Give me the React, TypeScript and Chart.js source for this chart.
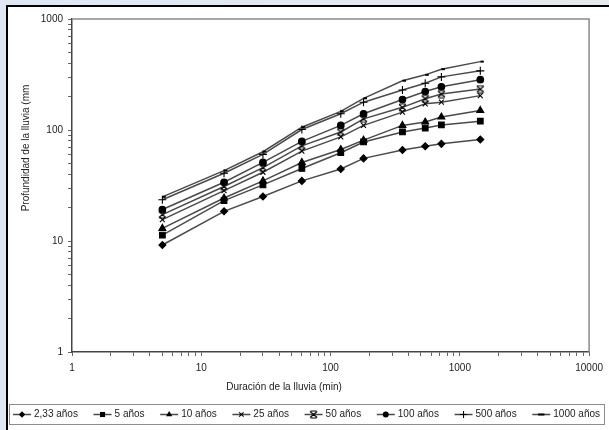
import React, { useEffect, useRef } from 'react';
import { Chart, registerables } from 'chart.js';

Chart.register(...registerables);

// ---- data ----
const durations = [5, 15, 30, 60, 120, 180, 360, 540, 720, 1440];
const seriesLabels = ['2,33 años', '5 años', '10 años', '25 años', '50 años', '100 años', '500 años', '1000 años'];
const p233 = [9.2, 18.5, 25.2, 34.8, 44.6, 55.5, 66, 71.5, 75, 82];
const p5 = [11.3, 23.1, 32, 45, 62.4, 78, 96, 104, 111, 120];
const p10 = [13.0, 24.4, 34.8, 51, 66.7, 81, 110, 118, 131, 150];
const p25 = [15.6, 28.4, 41.6, 64.5, 86.6, 110, 145, 172, 178, 204];
const p50 = [17.3, 31, 45.8, 72, 96, 126, 160, 191, 211, 234];
const p100 = [19.2, 33.8, 51, 79, 110, 140, 188, 222, 245, 284];
const p500 = [23.5, 40.8, 60.3, 101, 140, 178, 229, 264, 301, 341];
const p1000 = [25, 43, 63.7, 106, 147, 193, 278, 314, 353, 413];
const seriesValues = [p233, p5, p10, p25, p50, p100, p500, p1000];
const xTickLabels = [1, 10, 100, 1000, 10000];
const yTickLabels = [1, 10, 100, 1000];
const xTitle = 'Duración de la lluvia (min)';
const yTitle = 'Profundidad de la lluvia (mm';

// ---- styles ----
const FONT = '"Liberation Sans", Arial, sans-serif';
const LINE_COLOR = '#4a4a4a';
const markerStyles = ['rectRot', 'rect', 'triangle', 'crossRot', 'hourglass', 'circle', 'cross', 'dash'];
const markerRadius = [3.5, 4, 4, 3.5, 3.5, 3.3, 4, 3.5];

function makeHourglass(): HTMLCanvasElement {
  const c = document.createElement('canvas');
  c.width = 9;
  c.height = 9;
  const g = c.getContext('2d')!;
  g.strokeStyle = '#000';
  g.lineWidth = 1.1;
  g.beginPath();
  g.moveTo(1, 1.5); g.lineTo(8, 7.5);
  g.moveTo(8, 1.5); g.lineTo(1, 7.5);
  g.moveTo(1.5, 1); g.lineTo(7.5, 1);
  g.moveTo(1.5, 8); g.lineTo(7.5, 8);
  g.stroke();
  return c;
}

function decadeTicks(min: number, max: number): number[] {
  const out: number[] = [];
  for (let p = min; p < max; p *= 10) {
    for (let m = 1; m < 10; m++) out.push(p * m);
  }
  out.push(max);
  return out;
}

function drawMarker(ctx: CanvasRenderingContext2D, style: string, x: number, y: number, r: number, img: HTMLCanvasElement) {
  ctx.save();
  ctx.fillStyle = '#000';
  ctx.strokeStyle = '#000';
  ctx.lineWidth = 1.1;
  ctx.beginPath();
  switch (style) {
    case 'rectRot':
      ctx.moveTo(x, y - r); ctx.lineTo(x + r, y); ctx.lineTo(x, y + r); ctx.lineTo(x - r, y); ctx.closePath(); ctx.fill();
      break;
    case 'rect': {
      const s = r * Math.SQRT1_2;
      ctx.rect(x - s, y - s, 2 * s, 2 * s); ctx.fill();
      break;
    }
    case 'triangle':
      ctx.moveTo(x, y - r); ctx.lineTo(x + r * 0.87, y + r * 0.5); ctx.lineTo(x - r * 0.87, y + r * 0.5); ctx.closePath(); ctx.fill();
      break;
    case 'crossRot': {
      const s = r * Math.SQRT1_2;
      ctx.moveTo(x - s, y - s); ctx.lineTo(x + s, y + s); ctx.moveTo(x + s, y - s); ctx.lineTo(x - s, y + s); ctx.stroke();
      break;
    }
    case 'hourglass':
      ctx.drawImage(img, x - img.width / 2, y - img.height / 2);
      break;
    case 'circle':
      ctx.arc(x, y, r, 0, Math.PI * 2); ctx.fill();
      break;
    case 'cross':
      ctx.moveTo(x - r, y); ctx.lineTo(x + r, y); ctx.moveTo(x, y - r); ctx.lineTo(x, y + r); ctx.stroke();
      break;
    case 'dash':
      ctx.lineWidth = 2;
      ctx.moveTo(x - r, y); ctx.lineTo(x + r, y); ctx.stroke();
      break;
  }
  ctx.restore();
}

export default function App() {
  const ref = useRef<HTMLCanvasElement | null>(null);

  useEffect(() => {
    if (!ref.current) return;
    const hg = makeHourglass();

    const datasets = seriesValues.map((vals, i) => ({
      label: seriesLabels[i],
      data: durations.map((d, j) => ({ x: d, y: vals[j] })),
      borderColor: LINE_COLOR,
      borderWidth: 1.5,
      backgroundColor: '#000',
      pointStyle: markerStyles[i] === 'hourglass' ? hg : (markerStyles[i] as any),
      pointRadius: markerRadius[i],
      pointHoverRadius: markerRadius[i],
      pointBackgroundColor: '#000',
      pointBorderColor: '#000',
      pointBorderWidth: markerStyles[i] === 'dash' ? 2 : 1.1,
      fill: false,
      tension: 0,
    }));

    const framePlugin = {
      id: 'frameAndTitles',
      beforeDatasetsDraw(chart: any) {
        const { ctx, chartArea: a } = chart;
        ctx.save();
        ctx.strokeStyle = '#8a8a8a';
        ctx.lineWidth = 1.5;
        ctx.beginPath();
        ctx.moveTo(a.left, a.top);
        ctx.lineTo(a.right, a.top);
        ctx.lineTo(a.right, a.bottom);
        ctx.stroke();
        ctx.restore();
      },
      afterDraw(chart: any) {
        const ctx: CanvasRenderingContext2D = chart.ctx;
        // axis titles
        ctx.save();
        ctx.fillStyle = '#222';
        ctx.font = `10px ${FONT}`;
        ctx.textAlign = 'center';
        ctx.textBaseline = 'middle';
        ctx.fillText(xTitle, 276, 379);
        ctx.translate(18, 140);
        ctx.rotate(-Math.PI / 2);
        ctx.fillText(yTitle, 0, 0);
        ctx.restore();

        // legend
        ctx.save();
        const bx = 1, by = 396, bw = 595, bh = 20;
        ctx.strokeStyle = '#8c8c8c';
        ctx.lineWidth = 1;
        ctx.strokeRect(bx + 0.5, by + 0.5, bw, bh);
        ctx.font = `10px ${FONT}`;
        ctx.textBaseline = 'middle';
        ctx.textAlign = 'left';
        const sample = 18, gapText = 3, pad = 4;
        const widths = seriesLabels.map((l) => ctx.measureText(l).width);
        const total = widths.reduce((s, w) => s + sample + gapText + w, 0);
        const gap = (bw - 2 * pad - total) / (seriesLabels.length - 1);
        let x = bx + pad;
        const cy = by + bh / 2 + 0.5;
        seriesLabels.forEach((lab, i) => {
          ctx.strokeStyle = LINE_COLOR;
          ctx.lineWidth = 1.5;
          ctx.beginPath();
          ctx.moveTo(x, cy);
          ctx.lineTo(x + sample, cy);
          ctx.stroke();
          drawMarker(ctx, markerStyles[i], x + sample / 2, cy, markerRadius[i] * 0.9, hg);
          ctx.fillStyle = '#222';
          ctx.fillText(lab, x + sample + gapText, cy);
          x += sample + gapText + widths[i] + gap;
        });
        ctx.restore();
      },
    };

    const chart = new Chart(ref.current, {
      type: 'line',
      data: { datasets },
      plugins: [framePlugin],
      options: {
        animation: false,
        responsive: false,
        layout: { padding: { left: 8, top: 8, right: 15, bottom: 33 } },
        plugins: {
          legend: { display: false },
          tooltip: { enabled: false },
        },
        scales: {
          x: {
            type: 'logarithmic',
            min: 1,
            max: 10000,
            afterBuildTicks: (scale: any) => {
              scale.ticks = decadeTicks(1, 10000).map((v) => ({ value: v }));
            },
            afterFit: (scale: any) => { scale.height = 45; },
            ticks: {
              autoSkip: false,
              maxRotation: 0,
              padding: 6,
              color: '#222',
              font: { family: FONT, size: 10 },
              callback: (v: any) => (xTickLabels.includes(Number(v)) ? String(v) : ''),
            },
            grid: { display: true, drawOnChartArea: false, drawTicks: true, tickLength: 4, color: '#666' },
            border: { display: true, color: '#444', width: 1.5 },
          },
          y: {
            type: 'logarithmic',
            min: 1,
            max: 1000,
            afterBuildTicks: (scale: any) => {
              scale.ticks = decadeTicks(1, 1000).map((v) => ({ value: v }));
            },
            afterFit: (scale: any) => { scale.width = 56; },
            ticks: {
              autoSkip: false,
              padding: 5,
              color: '#222',
              font: { family: FONT, size: 10 },
              callback: (v: any) => (yTickLabels.includes(Number(v)) ? String(v) : ''),
            },
            grid: { display: true, drawOnChartArea: false, drawTicks: true, tickLength: 4, color: '#666' },
            border: { display: true, color: '#444', width: 1.5 },
          },
        },
      } as any,
    });
    return () => chart.destroy();
  }, []);

  return (
    <div style={{ position: 'fixed', left: 0, top: 0, width: 609, height: 430, overflow: 'hidden', background: 'linear-gradient(90deg, #dfe8f2, #e6e9ee)' }}>
      <div style={{ position: 'absolute', left: 6, top: 5, width: 700, height: 500, borderTop: '2px solid #000', borderLeft: '2px solid #000', background: '#fff' }} />
      <div style={{ position: 'absolute', left: 8, top: 8, width: 601, height: 422 }}>
        <canvas ref={ref} width={601} height={422} style={{ display: 'block' }} />
      </div>
    </div>
  );
}
